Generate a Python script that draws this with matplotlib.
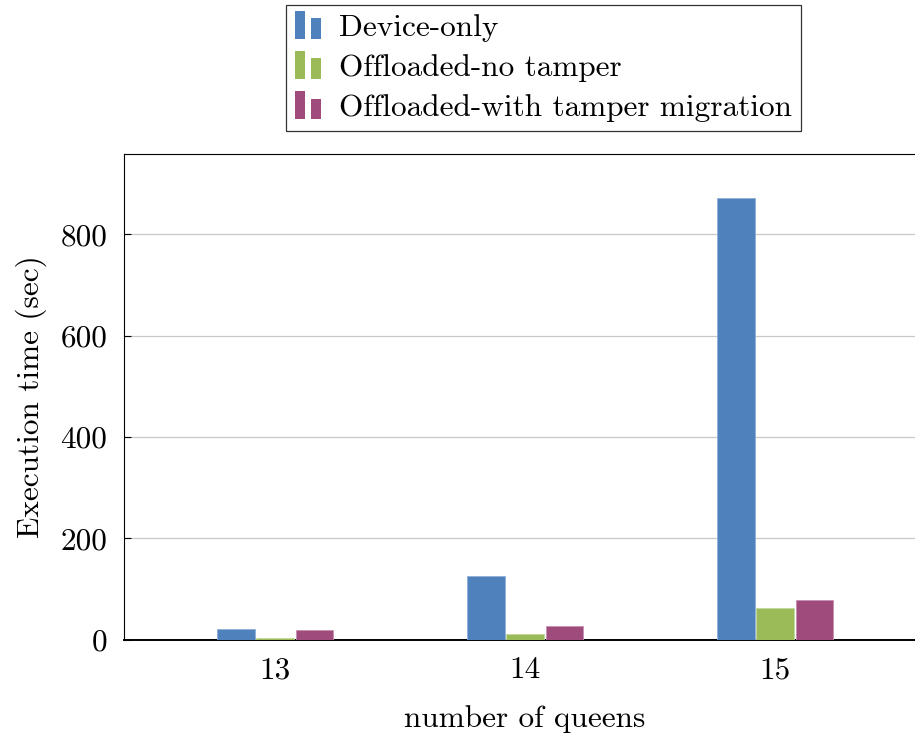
import matplotlib
matplotlib.use('Agg')
import matplotlib.pyplot as plt
from matplotlib.legend_handler import HandlerBase
from matplotlib.patches import Rectangle
import numpy as np

plt.rcParams['font.family'] = ['cmr10', 'DejaVu Serif']
plt.rcParams['axes.unicode_minus'] = False
plt.rcParams['mathtext.fontset'] = 'cm'

# data
queens = [13, 14, 15]
series = ['Device-only', 'Offloaded-no tamper', 'Offloaded-with tamper migration']
device_only = [20, 125, 872]
no_tamper = [3.5, 11.5, 63]
with_tamper = [18, 26.5, 78]
colors = ['#4F81BD', '#9BBB59', '#9F4C7C']
edges = ['#8FB0DA', '#C4D99C', '#C890B0']

FS = 22.5


class TwoBars(HandlerBase):
    # pgfplots style ybar legend: two little bars of different height
    def create_artists(self, legend, orig_handle, xdescent, ydescent,
                       width, height, fontsize, trans):
        fc = orig_handle.get_facecolor()
        w = width * 0.38
        y0 = -ydescent - height * 0.15
        r1 = Rectangle((-xdescent, y0), w, height * 1.3,
                       facecolor=fc, edgecolor='none', transform=trans)
        r2 = Rectangle((-xdescent + width * 0.64, y0), w, height * 0.95,
                       facecolor=fc, edgecolor='none', transform=trans)
        return [r1, r2]


fig = plt.figure(figsize=(9.15, 7.34), dpi=100)
W, H = 915, 734
ax = fig.add_axes([124 / W, (H - 639.5) / H, (926 - 124) / W, (639.5 - 154) / H])

x = np.array(queens)
step = 0.157
bw = 0.15
handles = []
for i, (vals, c, e) in enumerate(zip([device_only, no_tamper, with_tamper], colors, edges)):
    b = ax.bar(x + (i - 1) * step, vals, width=bw, color=c, edgecolor=e,
               linewidth=0.6, zorder=3, label=series[i])
    handles.append(b.patches[0])

ax.set_xlim(12.396, 15.604)
ax.set_ylim(0, 958.5)
ax.set_xticks(queens)
ax.set_yticks([0, 200, 400, 600, 800])
ax.yaxis.grid(True, color='#c8c8c8', linewidth=0.9, zorder=0)
ax.set_axisbelow(True)
ax.tick_params(axis='x', length=0, labelsize=FS, pad=12)
ax.tick_params(axis='y', direction='in', length=5, width=0.8, labelsize=FS, pad=12)
for s in ax.spines.values():
    s.set_linewidth(0.8)
ax.spines['bottom'].set_linewidth(1.4)

ax.set_xlabel('number of queens', fontsize=FS, labelpad=15)
ax.set_ylabel('Execution time (sec)', fontsize=FS, labelpad=10)

leg = fig.legend(handles, series, loc='upper center',
                 bbox_to_anchor=(543.5 / W, 1 - 4.5 / H), borderaxespad=0,
                 fontsize=FS, handler_map={Rectangle: TwoBars()},
                 handlelength=0.82, handletextpad=0.59, labelspacing=0.39,
                 borderpad=0.3, fancybox=False, framealpha=1,
                 edgecolor='#333333')
leg.get_frame().set_linewidth(0.9)

fig.savefig('out.png', dpi=100)
